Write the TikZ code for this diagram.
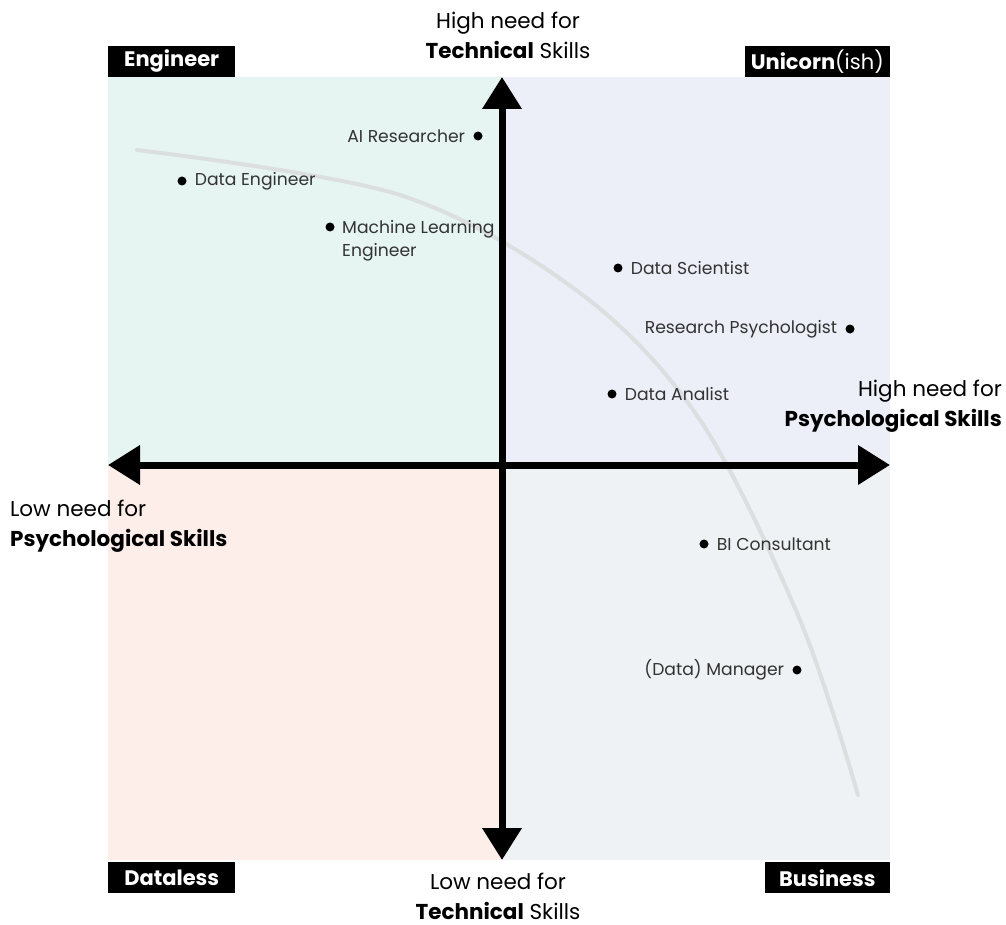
\documentclass[tikz,border=0pt]{standalone}
\usepackage{fontspec}
\setmainfont{Poppins}
\usepackage{tikz}
\usetikzlibrary{positioning,arrows.meta}
\definecolor{engGreen}{HTML}{E6F5F1}
\definecolor{uniBlue}{HTML}{ECEEF8}
\definecolor{dataRed}{HTML}{FDEEEA}
\definecolor{busGray}{HTML}{EEF2F4}
\definecolor{textGray}{HTML}{333333}
\definecolor{curveGray}{HTML}{DCDFE0}

\begin{document}
\begin{tikzpicture}[x=1pt, y=-1pt,
    every node/.style={font=\fontsize{17.2}{23}\selectfont, text=textGray, inner sep=0pt},
    dot/.style={circle, fill=black, minimum size=9pt},
    role/.style={align=left},
    axislabel/.style={font=\fontsize{21.5}{29.5}\selectfont, text=black},
    tag/.style={fill=black, text=white, font=\fontsize{21}{24}\selectfont\bfseries, minimum height=31pt},
    axis/.style={line width=7pt, {Triangle[length=32pt, width=38pt]}-{Triangle[length=32pt, width=38pt]}}]
        \useasboundingbox (0,0) rectangle (1006,925);

        % quadrants
        \fill[engGreen] (108,77) rectangle (502,465);
        \fill[uniBlue] (502,77) rectangle (890,465);
        \fill[dataRed] (108,465) rectangle (502,860);
        \fill[busGray] (502,465) rectangle (890,860);

        \draw[curveGray, line width=4pt, line cap=round] plot[smooth, tension=0.55] coordinates
            {(137,150) (400,195) (580,293) (700,420) (800,620) (858,795)};

        % axes
        \coordinate (west) at (108,465);
        \coordinate (east) at (890,465);
        \coordinate (north) at (502,77);
        \coordinate (south) at (502,860);
        \draw[axis] (west) -- (east);
        \draw[axis] (south) -- (north);

        \node[axislabel, align=center, anchor=north] (hightech) at (508,12)
            {High need for\\\textbf{Technical} Skills};
        \node[axislabel, align=center, anchor=north] (lowtech) at (498,873)
            {Low need for\\\textbf{Technical} Skills};
        \node[axislabel, align=left, anchor=north west] (lowpsy) at (10,500)
            {Low need for\\\textbf{Psychological Skills}};
        \node[axislabel, align=right, anchor=north east] (highpsy) at (1002,380)
            {High need for\\\textbf{Psychological Skills}};

        % quadrant tags
        \node[tag, minimum width=127pt, anchor=south west] (engineer) at (108,77) {Engineer};
        \node[tag, minimum width=145pt, anchor=south east] (unicorn) at (890,77) {Unicorn\mdseries(ish)};
        \node[tag, minimum width=127pt, anchor=north west] (dataless) at (108,862) {Dataless};
        \node[tag, minimum width=125pt, anchor=north east] (business) at (890,862) {Business};

        % roles
        \node[dot] (air) at (478,136) {};
        \node[role, left=8pt of air] (airlabel) {AI Researcher};
        \node[dot] (den) at (182,181) {};
        \node[role, right=8pt of den] (denlabel) {Data Engineer};
        \node[dot] (mle) at (330,227) {};
        \node[role, right=12pt of mle.center, anchor=north west, yshift=7pt] (mlelabel) {Machine Learning\\Engineer};
        \node[dot] (dsc) at (618,268) {};
        \node[role, right=8pt of dsc] (dsclabel) {Data Scientist};
        \node[dot] (rps) at (850,329) {};
        \node[role, left=8pt of rps] (rpslabel) {Research Psychologist};
        \node[dot] (dan) at (612,394) {};
        \node[role, right=8pt of dan] (danlabel) {Data Analist};
        \node[dot] (bic) at (704,544) {};
        \node[role, right=8pt of bic] (biclabel) {BI Consultant};
        \node[dot] (man) at (797,670) {};
        \node[role, left=8pt of man] (manlabel) {(Data) Manager};
    \end{tikzpicture}
\end{document}
